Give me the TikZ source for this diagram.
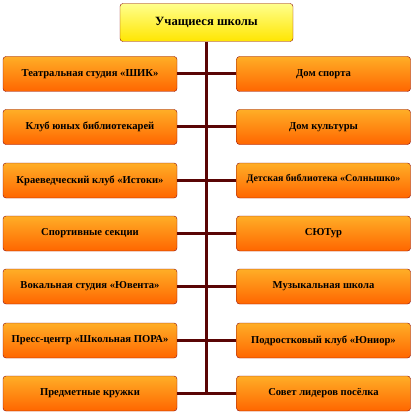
\documentclass[tikz,border=0pt]{standalone}
\usepackage{fontspec}
\setmainfont{Liberation Serif}
\usepackage{tikz}

\definecolor{boxline}{HTML}{8B0A0A}
\definecolor{trunk}{HTML}{5A0505}

\begin{document}
\begin{tikzpicture}[x=1pt,y=-1pt,
    every node/.style={align=center,font=\bfseries\fontsize{10.6}{12}\selectfont},
    club/.style={draw=boxline,rounded corners=3pt,minimum width=174pt,minimum height=35pt,
                 top color=orange!75!yellow!85!white,bottom color=orange!80!red,shading angle=0},
    link/.style={draw=trunk,line width=3pt}]
    \useasboundingbox (0,0) rectangle (414,414);
    \node[draw=boxline,rounded corners=3pt,minimum width=173pt,minimum height=38pt,
          top color=yellow!45!white,bottom color=yellow!80!orange,
          font=\bfseries\fontsize{12.6}{14}\selectfont] (top) at (206.5,22.5) {Учащиеся школы};
    % left column
    \node[club] (l1) at (90,74) {Театральная студия «ШИК»};
    \node[club] (l2) at (90,127) {Клуб юных библиотекарей};
    \node[club] (l3) at (90,180.5) {Краеведческий клуб «Истоки»};
    \node[club] (l4) at (90,233.5) {Спортивные секции};
    \node[club] (l5) at (90,286.5) {Вокальная студия «Ювента»};
    \node[club] (l6) at (90,340.5) {Пресс-центр «Школьная ПОРА»};
    \node[club] (l7) at (90,393.5) {Предметные кружки};
    % right column
    \node[club] (r1) at (323.5,74) {Дом спорта};
    \node[club] (r2) at (323.5,127) {Дом культуры};
    \node[club,font=\bfseries\fontsize{10}{12}\selectfont] (r3) at (323.5,180.5)
        {\raisebox{6pt}{Детская библиотека «Солнышко»}};
    \node[club] (r4) at (323.5,233.5) {СЮТур};
    \node[club] (r5) at (323.5,286.5) {Музыкальная школа};
    \node[club] (r6) at (323.5,340.5) {Подростковый клуб «Юниор»};
    \node[club] (r7) at (323.5,393.5) {Совет лидеров посёлка};
    \draw[link,line width=3.5pt] (top.south) -- (top.south |- l7.east);
    \foreach \i in {1,...,7}
      \draw[link] (l\i.east) -- (r\i.west);
\end{tikzpicture}
\end{document}
